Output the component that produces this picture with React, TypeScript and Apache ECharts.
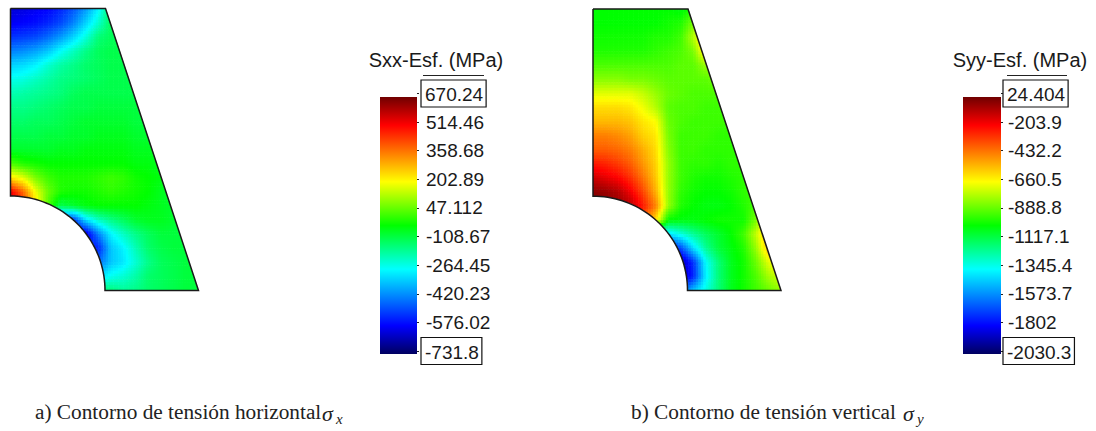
import React, { useEffect, useRef } from "react";
import * as echarts from "echarts";

// Readings: position of each mesh node on its colour bar, in % of the bar.
// Rows run from the top edge of the part to its bottom edge, columns from left to right.
const sxxLevels = [
  [8,9,10,11,14,18,24,32,44,45,45,45,45,45,45,45],
  [10,11,12,14,17,22,29,36,44,45,45,45,45,45,45,45],
  [15,16,17,20,24,29,35,42,44,45,45,45,45,45,45,45],
  [22,23,25,28,33,37,41,44,45,45,45,45,45,45,45,45],
  [29,30,32,36,39,41,43,44,45,45,45,45,45,45,45,45],
  [34,35,37,39,41,42,43,44,45,45,45,45,45,45,45,45],
  [38,39,40,41,42,44,45,45,45,45,45,45,45,45,45,45],
  [41,41,42,43,44,45,45,46,46,46,46,46,46,46,46,46],
  [43,43,44,44,45,46,47,47,47,47,46,46,46,46,46,46],
  [45,45,45,46,46,47,47,48,48,48,47,47,46,46,46,46],
  [47,47,47,47,48,48,49,49,49,49,48,48,47,46,46,46],
  [55,52,51,50,50,50,50,50,50,50,49,49,48,47,46,46],
  [69,65,58,54,52,52,52,53,54,53,51,50,49,47,46,46],
  [90,80,66,57,52,51,51,52,53,52,51,50,48,47,46,46],
  [95,85,70,55,45,47,49,50,50,50,50,49,48,47,46,46],
  [15,15,15,15,15,15,30,37,41,44,47,48,48,47,46,46],
  [10,10,10,10,10,10,8,22,32,37,41,44,46,46,46,46],
  [14,14,14,14,14,14,14,14,28,32,38,43,45,46,46,46],
  [20,20,20,20,20,20,20,20,28,31,36,41,44,45,46,46],
  [30,30,30,30,30,30,30,30,34,36,39,43,44,45,46,46],
  [42,42,42,42,42,42,42,42,42,40,41,43,44,45,46,46],
];
const syyLevels = [
  [50,50,50,50,50,50,50,49,52,55,55,55,55,55,55,55],
  [50,50,50,50,50,50,51,52,58,65,65,65,65,65,65,65],
  [51,51,51,51,51,52,52,54,62,72,72,72,72,72,72,72],
  [52,52,52,52,52,53,54,55,58,70,70,70,70,70,70,70],
  [55,55,55,55,55,55,55,56,56,60,60,60,60,60,60,60],
  [59,59,59,58,58,57,56,56,56,56,58,58,58,58,58,58],
  [65,65,65,65,63,60,57,56,55,55,55,55,55,55,55,55],
  [70,70,70,69,66,62,56,55,55,54,54,54,54,54,54,54],
  [73,73,73,72,69,67,57,55,54,54,54,54,54,54,54,54],
  [78,78,77,75,71,69,58,54,54,54,53,53,53,53,53,53],
  [81,81,80,78,74,70,59,54,54,53,53,53,53,53,53,53],
  [87,86,84,81,76,71,60,54,53,53,52,53,53,53,53,53],
  [93,91,89,85,79,72,60,54,52,51,51,52,53,54,54,54],
  [98,97,95,90,83,74,60,53,51,50,50,51,53,54,56,56],
  [98,98,97,95,87,78,60,52,50,49,49,50,52,55,60,60],
  [80,80,80,80,80,70,50,49,49,50,51,51,51,58,70,70],
  [30,30,30,30,30,30,30,35,40,44,47,50,54,63,74,74],
  [10,10,10,10,10,10,10,17,30,40,46,49,52,60,72,75],
  [5,5,5,5,5,5,5,5,15,33,42,48,51,57,65,70],
  [5,5,5,5,5,5,5,5,14,32,42,48,51,55,61,64],
  [20,20,20,20,20,20,20,20,28,35,42,48,51,54,57,60],
];

const sxxTicks = ["670.24","514.46","358.68","202.89","47.112","-108.67","-264.45","-420.23","-576.02","-731.8"];
const syyTicks = ["24.404","-203.9","-432.2","-660.5","-888.8","-1117.1","-1345.4","-1573.7","-1802","-2030.3"];
const sxxRange = [-731.8, 670.24];
const syyRange = [-2030.3, 24.404];

const colorStops: [number, number[]][] = [
  [0, [0, 0, 96]], [0.11, [0, 0, 255]], [0.33, [0, 255, 255]], [0.5, [0, 255, 0]],
  [0.67, [255, 255, 0]], [0.89, [255, 0, 0]], [1, [112, 0, 0]],
];

const PART_W = 188;
const PART_H = 282;
const TOP_W = 95;
const HOLE_R = 94.5;
const SUB = 5;

function colorAt(t: number) {
  const x = Math.max(0, Math.min(1, t));
  for (let i = 1; i < colorStops.length; i++) {
    const [p1, c1] = colorStops[i];
    if (x <= p1) {
      const [p0, c0] = colorStops[i - 1];
      const f = (x - p0) / (p1 - p0);
      return `rgb(${c0.map((c, k) => Math.round(c + (c1[k] - c) * f)).join(",")})`;
    }
  }
  return "rgb(112,0,0)";
}

function buildCells(levels: number[][], range: number[]) {
  const toMPa = (p: number) => range[0] + (p / 100) * (range[1] - range[0]);
  const rows = levels.length - 1;
  const cols = levels[0].length - 1;
  const out: number[][] = [];
  for (let r = 0; r < rows; r++) {
    for (let c = 0; c < cols; c++) {
      out.push([
        (c * PART_W) / cols, (r * PART_H) / rows,
        ((c + 1) * PART_W) / cols, ((r + 1) * PART_H) / rows,
        toMPa(levels[r][c]), toMPa(levels[r][c + 1]),
        toMPa(levels[r + 1][c]), toMPa(levels[r + 1][c + 1]),
      ]);
    }
  }
  return out;
}

function fieldSeries(levels: number[][], range: number[], idx: number) {
  return {
    type: "custom", coordinateSystem: "cartesian2d", xAxisIndex: idx, yAxisIndex: idx, silent: true,
    clip: false, encode: { x: [0, 2], y: [1, 3] }, data: buildCells(levels, range),
    renderItem(_: any, api: any) {
      const p0 = api.coord([api.value(0), api.value(1)]);
      const p1 = api.coord([api.value(2), api.value(3)]);
      const w = (p1[0] - p0[0]) / SUB;
      const h = (p1[1] - p0[1]) / SUB;
      const [a, b, c, d] = [api.value(4), api.value(5), api.value(6), api.value(7)];
      const children: any[] = [];
      for (let i = 0; i < SUB; i++) {
        for (let j = 0; j < SUB; j++) {
          const u = (i + 0.5) / SUB;
          const v = (j + 0.5) / SUB;
          const val = (a * (1 - u) + b * u) * (1 - v) + (c * (1 - u) + d * u) * v;
          children.push({
            type: "rect",
            shape: { x: p0[0] + i * w, y: p0[1] + j * h, width: w + 0.6, height: h + 0.6 },
            style: { fill: colorAt((val - range[0]) / (range[1] - range[0])) },
          });
        }
      }
      return { type: "group", children };
    },
  };
}

function outlineSeries(idx: number) {
  return {
    type: "custom", coordinateSystem: "cartesian2d", xAxisIndex: idx, yAxisIndex: idx, silent: true,
    clip: false, z: 5, data: [[0, 0]],
    renderItem(_: any, api: any) {
      const arc: number[][] = [];
      for (let i = 0; i <= 40; i++) {
        const ang = (i / 40) * (Math.PI / 2);
        arc.push([HOLE_R * Math.sin(ang), PART_H - HOLE_R * Math.cos(ang)]);
      }
      const px = (pts: number[][]) => pts.map((p) => api.coord(p));
      const border = [[0, 0], [TOP_W, 0], [PART_W, PART_H], [HOLE_R, PART_H], ...arc.slice().reverse(), [0, 0]];
      return {
        type: "group",
        children: [
          { type: "polygon", shape: { points: px([[TOP_W, -1], [PART_W + 2, -1], [PART_W + 2, PART_H + 1], [PART_W, PART_H]]) }, style: { fill: "#fff" } },
          { type: "polygon", shape: { points: px([[-1, PART_H - HOLE_R], ...arc, [HOLE_R, PART_H + 2], [-1, PART_H + 2]]) }, style: { fill: "#fff" } },
          { type: "polygon", shape: { points: px([[0, PART_H], [PART_W + 2, PART_H], [PART_W + 2, PART_H + 2], [0, PART_H + 2]]) }, style: { fill: "#fff" } },
          { type: "polyline", shape: { points: px(border) }, style: { stroke: "#1a1a1a", lineWidth: 1.5, fill: "none" } },
        ],
      };
    },
  };
}

function barSeries(range: number[], idx: number) {
  return {
    type: "custom", coordinateSystem: "cartesian2d", xAxisIndex: idx, yAxisIndex: idx, silent: true,
    clip: false, data: [[0, range[1], 1, range[0]]], encode: { x: [0, 2], y: [1, 3] },
    renderItem(_: any, api: any) {
      const p0 = api.coord([api.value(0), api.value(1)]);
      const p1 = api.coord([api.value(2), api.value(3)]);
      return {
        type: "rect",
        shape: { x: p0[0], y: p0[1], width: p1[0] - p0[0], height: p1[1] - p0[1] },
        style: {
          fill: new echarts.graphic.LinearGradient(0, 1, 0, 0,
            colorStops.map(([offset, c]) => ({ offset, color: `rgb(${c.join(",")})` }))),
        },
      };
    },
  };
}

const SANS = "'Liberation Sans', Arial, sans-serif";
const SERIF = "'Liberation Serif', serif";

function labelAxis(ticks: string[], gridIndex: number, margin: number) {
  return {
    type: "category", gridIndex, position: "right", inverse: true, boundaryGap: false, data: ticks,
    axisLine: { show: false },
    axisTick: { show: true, length: 2, alignWithLabel: true, interval: 0, lineStyle: { color: "#222", width: 1 } },
    axisLabel: {
      show: true, interval: 0, margin,
      formatter: (v: string, i: number) => (i === 0 || i === ticks.length - 1 ? `{box|${v}}` : `{plain|${v}}`),
      rich: {
        plain: { fontFamily: SANS, fontSize: 19, color: "#1a1a1a", padding: [0, 0, 0, 5] },
        box: { fontFamily: SANS, fontSize: 19, color: "#1a1a1a", borderColor: "#111", borderWidth: 1.2, padding: [5, 3, 3, 4] },
      },
    },
  };
}

const hidden = { show: false };

export default function App() {
  const ref = useRef<HTMLDivElement>(null);
  useEffect(() => {
    document.body.style.margin = "0";
    document.body.style.background = "#fff";
    const chart = echarts.init(ref.current!, null, { renderer: "svg" });
    const valueX = (gridIndex: number, max: number) => ({ type: "value", gridIndex, min: 0, max, ...hidden, splitLine: hidden });
    chart.setOption({
      animation: false,
      backgroundColor: "#fff",
      grid: [
        { left: 10.5, top: 8.5, width: PART_W, height: PART_H },
        { left: 593, top: 9, width: PART_W, height: 281.5 },
        { left: 380, top: 97, width: 37, height: 257 },
        { left: 963, top: 97, width: 38, height: 257 },
        { left: 417, top: 93.5, width: 1, height: 257.5 },
        { left: 1001, top: 93.5, width: 1, height: 257.5 },
      ],
      xAxis: [
        valueX(0, PART_W), valueX(1, PART_W), valueX(2, 1), valueX(3, 1), valueX(4, 1), valueX(5, 1),
      ],
      yAxis: [
        { type: "value", gridIndex: 0, min: 0, max: PART_H, inverse: true, ...hidden, splitLine: hidden },
        { type: "value", gridIndex: 1, min: 0, max: PART_H, inverse: true, ...hidden, splitLine: hidden },
        { type: "value", gridIndex: 2, min: sxxRange[0], max: sxxRange[1], ...hidden, splitLine: hidden },
        { type: "value", gridIndex: 3, min: syyRange[0], max: syyRange[1], ...hidden, splitLine: hidden },
        labelAxis(sxxTicks, 4, 3),
        labelAxis(syyTicks, 5, 1),
      ],
      series: [
        fieldSeries(sxxLevels, sxxRange, 0),
        outlineSeries(0),
        fieldSeries(syyLevels, syyRange, 1),
        outlineSeries(1),
        barSeries(sxxRange, 2),
        barSeries(syyRange, 3),
      ],
      graphic: [
        { type: "text", x: 436, y: 60, style: { text: "Sxx-Esf. (MPa)", fontFamily: SANS, fontSize: 20, fill: "#1a1a1a", align: "center", verticalAlign: "middle" } },
        { type: "text", x: 1020, y: 60, style: { text: "Syy-Esf. (MPa)", fontFamily: SANS, fontSize: 20, fill: "#1a1a1a", align: "center", verticalAlign: "middle" } },
        { type: "line", shape: { x1: 423, y1: 75.5, x2: 484, y2: 75.5 }, style: { stroke: "#222", lineWidth: 1.2 } },
        { type: "line", shape: { x1: 1007, y1: 75.5, x2: 1067, y2: 75.5 }, style: { stroke: "#222", lineWidth: 1.2 } },
        { type: "text", x: 35, y: 412, style: { text: "a) Contorno de tensión horizontal", fontFamily: SERIF, fontSize: 21.3, fill: "#222", verticalAlign: "middle" } },
        { type: "text", x: 322, y: 413, style: { text: "σ", fontFamily: SERIF, fontSize: 22, fontStyle: "italic", fill: "#222", verticalAlign: "middle" } },
        { type: "text", x: 336, y: 419, style: { text: "x", fontFamily: SERIF, fontSize: 15, fontStyle: "italic", fill: "#222", verticalAlign: "middle" } },
        { type: "text", x: 631, y: 412, style: { text: "b) Contorno de tensión vertical", fontFamily: SERIF, fontSize: 21.3, fill: "#222", verticalAlign: "middle" } },
        { type: "text", x: 903, y: 413, style: { text: "σ", fontFamily: SERIF, fontSize: 22, fontStyle: "italic", fill: "#222", verticalAlign: "middle" } },
        { type: "text", x: 917, y: 419, style: { text: "y", fontFamily: SERIF, fontSize: 15, fontStyle: "italic", fill: "#222", verticalAlign: "middle" } },
      ],
    });
    return () => chart.dispose();
  }, []);
  return <div ref={ref} style={{ position: "absolute", left: 0, top: 0, width: 1096, height: 431 }} />;
}
